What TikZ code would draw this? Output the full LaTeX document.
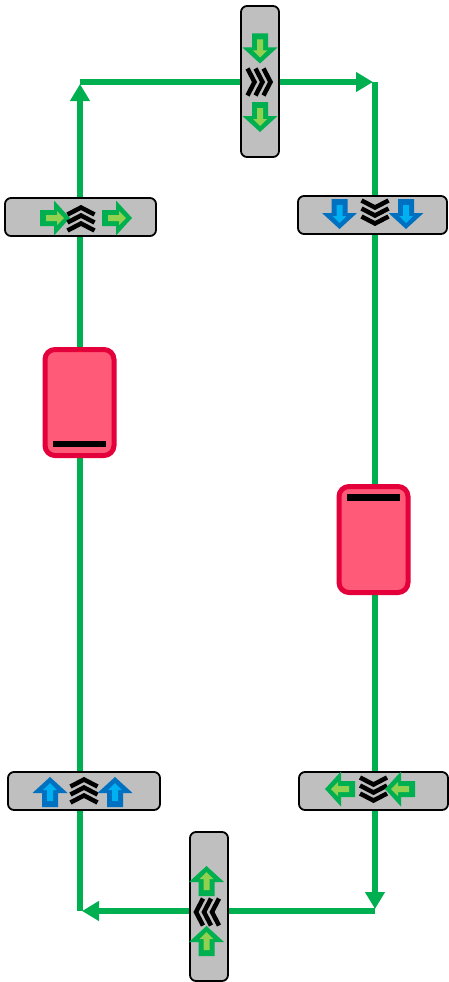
\documentclass[tikz,border=0pt]{standalone}
\usepackage{tikz}
\usepackage{xcolor}
\usetikzlibrary{positioning, arrows.meta, calc}
\definecolor{loopgreen}{HTML}{00B050}
\definecolor{greenlight}{HTML}{92D050}
\definecolor{bluedark}{HTML}{0070C0}
\definecolor{bluelight}{HTML}{00B0F0}
\definecolor{panelgray}{HTML}{BFBFBF}
\definecolor{blockred}{HTML}{FF5A78}
\definecolor{blockedge}{HTML}{E4003B}

\tikzset{
  pics/fatarrow/.style 2 args={code={
    \fill[#1] (-14pt,-8pt) -- (0pt,-8pt) -- (0pt,-17.5pt) -- (16pt,0pt) -- (0pt,17.5pt) -- (0pt,8pt) -- (-14pt,8pt) -- cycle;
    \fill[#2] (-8pt,-3pt) -- (3pt,-3pt) -- (3pt,-7pt) -- (10pt,0pt) -- (3pt,7pt) -- (3pt,3pt) -- (-8pt,3pt) -- cycle;
  }},
  pics/chevrons/.style={code={
    \foreach \dx in {-8,0,8}
      \draw[line width=4.5pt, miter limit=6] (\dx pt-3.5pt,-13.5pt) -- (\dx pt+3.5pt,0pt) -- (\dx pt-3.5pt,13.5pt);
  }}
}

\begin{document}
\begin{tikzpicture}[x=1pt, y=-1pt,
        flow/.style={draw=loopgreen, line width=6pt, shorten >=2pt,
                     -{Triangle[width=19pt,length=17pt]}},
        panel/.style={rectangle, rounded corners=6pt, draw=black, line width=1.8pt,
                      fill=panelgray, inner sep=0pt},
        block/.style={rectangle, rounded corners=10pt, draw=blockedge, line width=5pt,
                      fill=blockred, minimum width=69pt, minimum height=106pt, inner sep=0pt},
        bar/.style={rectangle, fill=black, minimum width=53pt, minimum height=6.5pt, inner sep=0pt}
      ]
        \useasboundingbox (0,0) rectangle (448,982);

        \coordinate (tl) at (80,82);
        \coordinate (tr) at (375,82);
        \coordinate (br) at (375,911);
        \coordinate (bl) at (80,911);
        \draw[flow] (bl) -- (tl);
        \draw[flow] (tl) -- (tr);
        \draw[flow] (tr) -- (br);
        \draw[flow] (br) -- (bl);

        \node[panel, minimum width=38pt, minimum height=151pt] (toppanel) at (260,81.5) {};
        \pic[rotate=-90] at (260,47.5) {fatarrow={loopgreen}{greenlight}};
        \pic at (259,82) {chevrons};
        \pic[rotate=-90] at (260,116) {fatarrow={loopgreen}{greenlight}};

        \node[panel, minimum width=151pt, minimum height=38pt] (leftup) at (80.5,217) {};
        \pic at (54,218) {fatarrow={loopgreen}{greenlight}};
        \pic[rotate=90] at (81,219) {chevrons};
        \pic at (116,218) {fatarrow={loopgreen}{greenlight}};

        \node[panel, minimum width=149pt, minimum height=38pt] (rightup) at (372.5,215) {};
        \pic[rotate=-90] at (339.5,213) {fatarrow={bluedark}{bluelight}};
        \pic[rotate=-90] at (375,212) {chevrons};
        \pic[rotate=-90] at (406,213) {fatarrow={bluedark}{bluelight}};

        \node[block] (leftblock) at (79.5,402.5) {};
        \node[bar] (leftbar) at (79.5,444) {};

        \node[block] (rightblock) at (373.5,539.5) {};
        \node[bar] (rightbar) at (373.5,497.5) {};

        \node[panel, minimum width=152pt, minimum height=38pt] (leftdown) at (84,791) {};
        \pic[rotate=90] at (50,793) {fatarrow={bluedark}{bluelight}};
        \pic[rotate=90] at (84,791) {chevrons};
        \pic[rotate=90] at (115,793) {fatarrow={bluedark}{bluelight}};

        \node[panel, minimum width=149pt, minimum height=38pt] (rightdown) at (373.5,791) {};
        \pic[rotate=180] at (341,789) {fatarrow={loopgreen}{greenlight}};
        \pic[rotate=-90] at (373.5,789) {chevrons};
        \pic[rotate=180] at (401,789) {fatarrow={loopgreen}{greenlight}};

        \node[panel, minimum width=38pt, minimum height=149pt] (bottompanel) at (209,906.5) {};
        \pic[rotate=90] at (206.5,882) {fatarrow={loopgreen}{greenlight}};
        \pic[rotate=180] at (207.5,912) {chevrons};
        \pic[rotate=90] at (206.5,942) {fatarrow={loopgreen}{greenlight}};
      \end{tikzpicture}
\end{document}
